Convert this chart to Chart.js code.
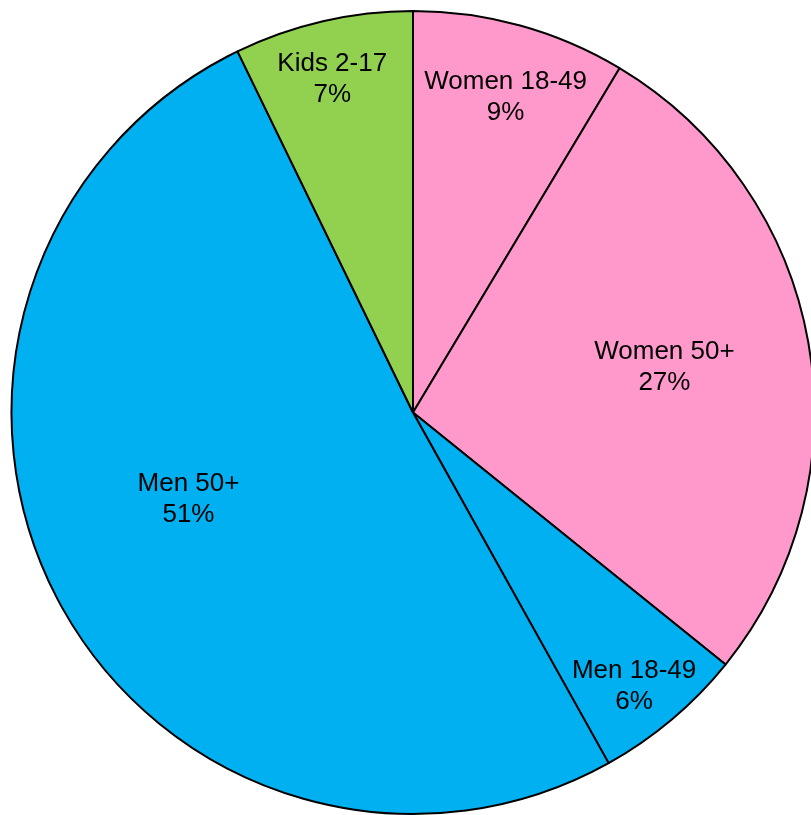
<!DOCTYPE html>
<html lang="en">

<head>
    <meta charset="UTF-8">
    <title>Audience split</title>
    <style>
        html, body { margin: 0; padding: 0; overflow: hidden; background: #fff; }
        #cvs { display: block; }
    </style>
</head>

<body>
    <canvas id="cvs" width="826" height="825" style="width:826px;height:825px"></canvas>
    <script src="https://cdn.jsdelivr.net/npm/chart.js@4.4.1/dist/chart.umd.min.js"></script>

    <script>
        // data, clockwise from 12 o'clock (labels show the rounded share)
        const labels = ["Women 18-49", "Women 50+", "Men 18-49", "Men 50+", "Kids 2-17"];
        const shares = [8.6, 27.2, 6.1, 50.9, 7.2];
        const colors = ["#FF99CC", "#FF99CC", "#00B0F0", "#00B0F0", "#92D050"];

        // where each label sits inside its slice (fraction of radius, angle nudge in degrees)
        const labelRadius = [0.818, 0.636, 0.876, 0.6, 0.855];
        const labelNudge = [0.9, 0, 1.2, 6.3, -0.65];

        const ctx = document.getElementById("cvs").getContext("2d");

        const sliceLabels = {
            id: "sliceLabels",
            afterDatasetsDraw(chart) {
                const c = chart.ctx;
                const arcs = chart.getDatasetMeta(0).data;
                c.save();
                c.font = "26px 'Liberation Sans', Arial, sans-serif";
                c.fillStyle = "#000";
                c.textAlign = "center";
                c.textBaseline = "middle";
                arcs.forEach((arc, i) => {
                    const p = arc.getProps(["x", "y", "startAngle", "endAngle", "outerRadius"], true);
                    const mid = (p.startAngle + p.endAngle) / 2 + labelNudge[i] * Math.PI / 180;
                    const r = p.outerRadius * labelRadius[i];
                    const x = p.x + Math.cos(mid) * r;
                    const y = p.y + Math.sin(mid) * r;
                    c.fillText(labels[i], x, y - 15.5);
                    c.fillText(Math.round(shares[i]) + "%", x, y + 15.5);
                });
                c.restore();
            }
        };

        new Chart(ctx, {
            type: "pie",
            data: {
                labels: labels,
                datasets: [{
                    data: shares,
                    backgroundColor: colors,
                    borderColor: "#000",
                    borderWidth: 2
                }]
            },
            options: {
                responsive: false,
                animation: false,
                layout: { padding: 10 },
                plugins: {
                    legend: { display: false },
                    tooltip: { enabled: false }
                }
            },
            plugins: [sliceLabels]
        });
    </script>
</body>

</html>
